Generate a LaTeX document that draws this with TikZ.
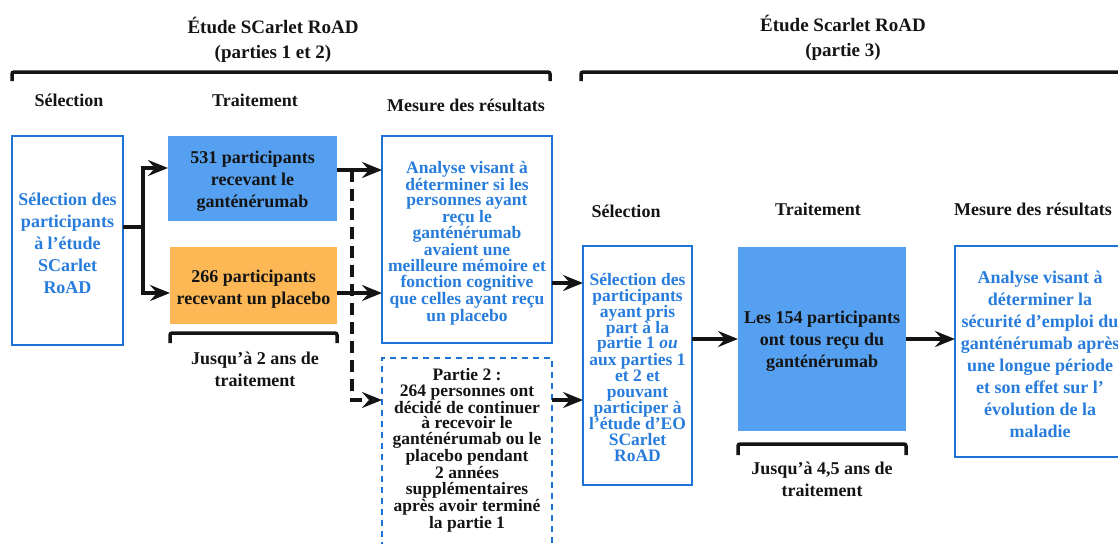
\documentclass[tikz,border=0pt]{standalone}
\usepackage{fontspec}
\setmainfont{Liberation Serif}
\usetikzlibrary{arrows.meta}
\definecolor{bluetxt}{RGB}{40,125,220}
\definecolor{blueline}{RGB}{30,115,215}
\definecolor{bluefill}{RGB}{85,160,240}
\definecolor{orangefill}{RGB}{253,184,85}
\definecolor{ink}{RGB}{20,20,20}
\begin{document}
\begin{tikzpicture}[x=1pt,y=-1pt,
  every node/.style={inner sep=0pt,outer sep=0pt,font=\bfseries},
  bigtxt/.style={font=\bfseries\fontsize{18}{22}\selectfont,align=center},
  tighttxt/.style={font=\bfseries\fontsize{17.5}{15.8}\selectfont,align=center},
  hdr/.style={font=\bfseries\fontsize{18}{22}\selectfont,text=ink},
  ttl/.style={font=\bfseries\fontsize{19}{24.5}\selectfont,text=ink,align=center},
  outbox/.style={draw=blueline,line width=2pt,fill=white},
  dashbox/.style={draw=blueline,line width=2pt,dash pattern=on 6pt off 5pt},
  fillblue/.style={fill=bluefill},
  fillorange/.style={fill=orangefill},
  conn/.style={line width=3.2pt,ink},
  arr/.style={conn,-{Stealth[length=20pt,width=16pt,inset=7pt]}},
  darr/.style={arr,dash pattern=on 12pt off 7pt},
  brk/.style={line width=3.5pt,ink,rounded corners=2pt},
]
\useasboundingbox (0,0) rectangle (1118,543);

% titles and brackets
\node[ttl] (t1) at (273,40) {Étude SCarlet RoAD\\(parties 1 et 2)};
\node[ttl] (t2) at (843,38) {Étude Scarlet RoAD\\(partie 3)};
\draw[brk] (12,81) -- (12,72) -- (550,72) -- (550,81);
\draw[brk] (581,81) -- (581,72) -- (1130,72);

% headers
\node[hdr] (h1) at (69,100) {Sélection};
\node[hdr] (h2) at (255,100) {Traitement};
\node[hdr] (h3) at (466,105) {Mesure des résultats};
\node[hdr] (h4) at (626,211) {Sélection};
\node[hdr] (h5) at (818,209) {Traitement};
\node[hdr] (h6) at (1033,209) {Mesure des résultats};

% part 1-2 boxes
\node[outbox,minimum width=111pt,minimum height=209pt] (sel1) at (67.5,240.5) {};
\node[bigtxt,text=bluetxt] (sel1t) at (67.5,243) {Sélection des\\participants\\à l’étude\\SCarlet\\RoAD};

\node[fillblue,minimum width=169pt,minimum height=85pt] (g1) at (252.5,178.5) {};
\node[bigtxt,text=ink] (g1t) at (252.5,181) {531 participants\\recevant le\\ganténérumab};

\node[fillorange,minimum width=167pt,minimum height=77pt] (p1) at (253.5,285.5) {};
\node[bigtxt,text=ink] (p1t) at (253.5,289) {266 participants\\recevant un placebo};

\node[bigtxt,text=ink] (d1) at (255,369.5) {Jusqu’à 2 ans de\\traitement};
\draw[brk] ([yshift=-19pt]p1.south west) -- ([yshift=-9pt]p1.south west) -- ([yshift=-9pt]p1.south east) -- ([yshift=-19pt]p1.south east);

\node[outbox,minimum width=170pt,minimum height=207pt] (an1) at (467,239.5) {};
\node[tighttxt,text=bluetxt] (an1t) at (467,243) {Analyse visant à\\déterminer si les\\personnes ayant\\reçu le\\ganténérumab\\avaient une\\meilleure mémoire et\\fonction cognitive\\que celles ayant reçu\\un placebo};

\node[dashbox,minimum width=170pt,minimum height=202pt] (p2) at (467,459) {};
\node[tighttxt,text=ink] (p2t) at (467,450) {Partie 2 :\\264 personnes ont\\décidé de continuer\\à recevoir le\\ganténérumab ou le\\placebo pendant\\2 années\\supplémentaires\\après avoir terminé\\la partie 1};

% part 3 boxes
\node[outbox,minimum width=109pt,minimum height=239pt] (sel2) at (637.5,365.5) {};
\node[font=\bfseries\fontsize{17.5}{16}\selectfont,align=center,text=bluetxt] (sel2t) at (637.5,367) {Sélection des\\participants\\ayant pris\\part à la\\partie 1 \textit{ou}\\aux parties 1\\et 2 et\\pouvant\\participer à\\l’étude d’EO\\SCarlet\\RoAD};

\node[fillblue,minimum width=168pt,minimum height=184pt] (tr) at (822,339) {};
\node[bigtxt,text=ink] (trt) at (822,341) {Les 154 participants\\ont tous reçu du\\ganténérumab};
\draw[brk] ([yshift=-24pt]tr.south west) -- ([yshift=-13pt]tr.south west) -- ([yshift=-13pt]tr.south east) -- ([yshift=-24pt]tr.south east);
\node[bigtxt,text=ink] (d2) at (822,479) {Jusqu’à 4,5 ans de\\traitement};

\node[outbox,minimum width=190pt,minimum height=211pt] (mes2) at (1050,351.5) {};
\node[bigtxt,text=bluetxt] (mes2t) at (1040,354) {Analyse visant à\\déterminer la\\sécurité d’emploi du\\ganténérumab après\\une longue période\\et son effet sur l’\\évolution de la\\maladie};

% connectors
\coordinate (j) at (143,227);
\draw[conn] ([yshift=13.5pt]sel1.east) -- (j);
\draw[arr] (j) |- ([yshift=10.5pt]g1.west);
\draw[arr] (j) |- ([yshift=-7.5pt]p1.west);

\coordinate (ga) at ([yshift=8.5pt]g1.east);
\coordinate (pa) at ([yshift=-7.5pt]p1.east);
\coordinate (d0) at (352,170);
\coordinate (p2in) at ([yshift=59pt]p2.west);
\draw[darr] (d0) |- (p2in);
\draw[arr] (ga) -- (ga -| an1.west);
\draw[arr] (pa) -- (pa -| an1.west);

\coordinate (ao) at ([yshift=-43.5pt]an1.east);
\coordinate (po) at ([yshift=59pt]p2.east);
\draw[arr] (ao) -- (ao -| sel2.west);
\draw[arr] (po) -- (po -| sel2.west);

\draw[arr] (tr.west -| sel2.east) -- (tr.west);
\draw[arr] (tr.east) -- (tr.east -| mes2.west);
\end{tikzpicture}
\end{document}
